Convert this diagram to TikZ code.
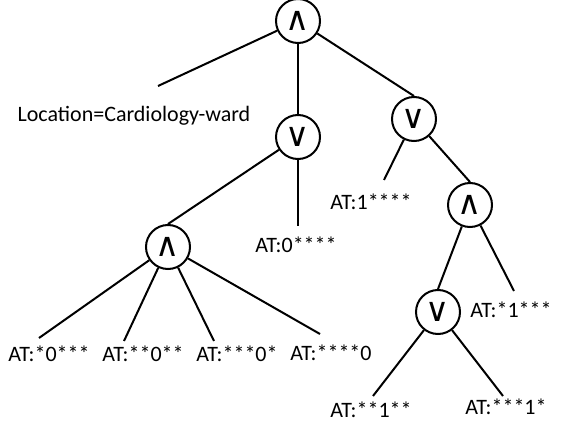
\documentclass[tikz,border=0pt]{standalone}
\usepackage{fontspec}
\setmainfont{Carlito}
\newfontfamily\opfont{DejaVu Sans}
\tikzset{
    op/.style={circle,draw,line width=2pt,minimum size=44pt,inner sep=0pt,font=\opfont\fontsize{33}{33}\selectfont},
    edge/.style={-,line width=2pt,draw=black},
    leaf/.style={inner sep=0pt,font=\fontsize{22}{26}\selectfont},
}

\begin{document}
\begin{tikzpicture}[x=1pt,y=-1pt]
    \useasboundingbox (0,0) rectangle (565,425);
    \node[op] (1) at (298,21) {∧};
    \node[op] (2) at (298,137) {∨};
    \node[op] (3) at (168,247) {∧};
    \node[op] (4) at (414,119) {∨};
    \node[op] (5) at (470,205) {∧};
    \node[op] (6) at (438,312) {∨};
    \coordinate (e0) at (158,86);
    \coordinate (e1) at (298,226);
    \coordinate (e2) at (39,338);
    \coordinate (e3) at (124,341);
    \coordinate (e4) at (214,341);
    \coordinate (e5) at (320,334);
    \coordinate (e6) at (384,180);
    \coordinate (e7) at (514,291);
    \coordinate (e8) at (373,396);
    \coordinate (e9) at (503,396);
    \node[leaf] (loc) at (134,116) {Location=Cardiology-ward};
    \node[leaf] (l1) at (296,245) {AT:0****};
    \node[leaf] (l2) at (49,354) {AT:*0***};
    \node[leaf] (l3) at (143,354) {AT:**0**};
    \node[leaf] (l4) at (237,354) {AT:***0*};
    \node[leaf] (l5) at (331,353) {AT:****0};
    \node[leaf] (l6) at (371,202) {AT:1****};
    \node[leaf] (l7) at (511,310) {AT:*1***};
    \node[leaf] (l8) at (371,410) {AT:**1**};
    \node[leaf] (l9) at (506,407) {AT:***1*};
    \draw[edge] (1) -- (e0);
    \draw[edge] (1) -- (2.north);
    \draw[edge] (1) -- (4.north);
    \draw[edge] (2) -- (3.north);
    \draw[edge] (2) -- (e1);
    \draw[edge] (3) -- (e2);
    \draw[edge] (3) -- (e3);
    \draw[edge] (3) -- (e4);
    \draw[edge] (3) -- (e5);
    \draw[edge] (4) -- (e6);
    \draw[edge] (4) -- (5.north);
    \draw[edge] (5) -- (6.north);
    \draw[edge] (5) -- (e7);
    \draw[edge] (6) -- (e8);
    \draw[edge] (6) -- (e9);
\end{tikzpicture}
\end{document}
